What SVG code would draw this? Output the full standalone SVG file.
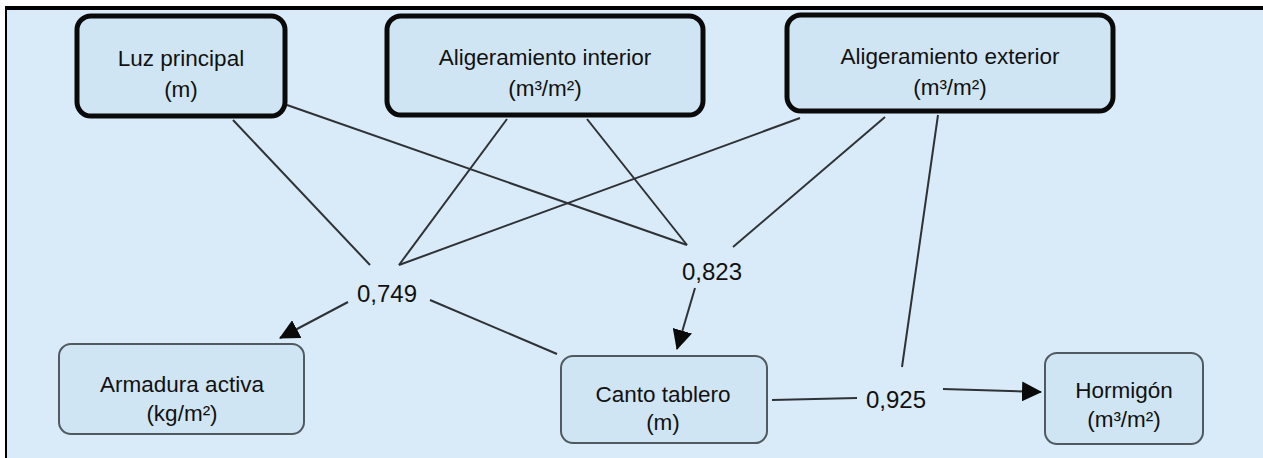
<svg xmlns="http://www.w3.org/2000/svg" width="1263" height="458" viewBox="0 0 1263 458">
<defs>
<style>
.bg{fill:#d9ebf8}
.top{fill:#d0e5f4;stroke:#0a0a0a;stroke-width:5}
.bot{fill:#d0e5f4;stroke:#505a60;stroke-width:2}
.t{font-family:"Liberation Sans",Arial,sans-serif;font-size:22.5px;fill:#111;text-anchor:middle}
.lbl{font-family:"Liberation Sans",Arial,sans-serif;font-size:24px;fill:#111;text-anchor:middle}
.c{stroke:#2e3236;stroke-width:2;fill:none}
</style>
<marker id="arr" markerUnits="userSpaceOnUse" markerWidth="20" markerHeight="20" refX="19" refY="10" orient="auto">
<path d="M0,0 L20,10 L0,20 z" fill="#0a0a0a"/>
</marker>
</defs>
<rect x="0" y="0" width="1263" height="458" fill="#ffffff"/>
<rect class="bg" x="6" y="8" width="1257" height="450"/>
<line x1="6" y1="8" x2="1263" y2="8" stroke="#000" stroke-width="4"/>
<line x1="6" y1="6" x2="6" y2="458" stroke="#000" stroke-width="2"/>

<g id="connectors">
<line class="c" x1="233" y1="120" x2="370" y2="265"/>
<line class="c" x1="507" y1="119" x2="399" y2="265"/>
<line class="c" x1="800" y1="118" x2="399" y2="265"/>
<line class="c" x1="287" y1="105" x2="687" y2="245"/>
<line class="c" x1="587" y1="119" x2="687" y2="245"/>
<line class="c" x1="885" y1="117" x2="733" y2="247"/>
<line class="c" x1="938" y1="115" x2="902" y2="367"/>
<line class="c" x1="348" y1="302" x2="280" y2="338" marker-end="url(#arr)"/>
<line class="c" x1="430" y1="300" x2="557" y2="354"/>
<line class="c" x1="695" y1="288" x2="677" y2="349" marker-end="url(#arr)"/>
<line class="c" x1="772" y1="400" x2="857" y2="398"/>
<line class="c" x1="943" y1="389" x2="1041" y2="392" marker-end="url(#arr)"/>
<text class="lbl" x="387" y="302">0,749</text>
<text class="lbl" x="712" y="280">0,823</text>
<text class="lbl" x="896" y="408">0,925</text>
</g>

<g id="luz">
<rect class="top" x="77" y="16" width="208" height="100" rx="14"/>
<text class="t" x="181" y="66">Luz principal</text>
<text class="t" x="181" y="97">(m)</text>
</g>
<g id="alig-int">
<rect class="top" x="387" y="16" width="316" height="99" rx="14"/>
<text class="t" x="545" y="65">Aligeramiento interior</text>
<text class="t" x="545" y="96">(m³/m²)</text>
</g>
<g id="alig-ext">
<rect class="top" x="787" y="15" width="326" height="96" rx="14"/>
<text class="t" x="950" y="64">Aligeramiento exterior</text>
<text class="t" x="950" y="95">(m³/m²)</text>
</g>
<g id="armadura">
<rect class="bot" x="59" y="344" width="245" height="90" rx="12"/>
<text class="t" x="182" y="392">Armadura activa</text>
<text class="t" x="182" y="421">(kg/m²)</text>
</g>
<g id="canto">
<rect class="bot" x="561" y="356" width="206" height="87" rx="12"/>
<text class="t" x="663" y="402">Canto tablero</text>
<text class="t" x="663" y="430">(m)</text>
</g>
<g id="hormigon">
<rect class="bot" x="1045" y="353" width="158" height="91" rx="12"/>
<text class="t" x="1124" y="398">Hormigón</text>
<text class="t" x="1124" y="427">(m³/m²)</text>
</g>
</svg>
